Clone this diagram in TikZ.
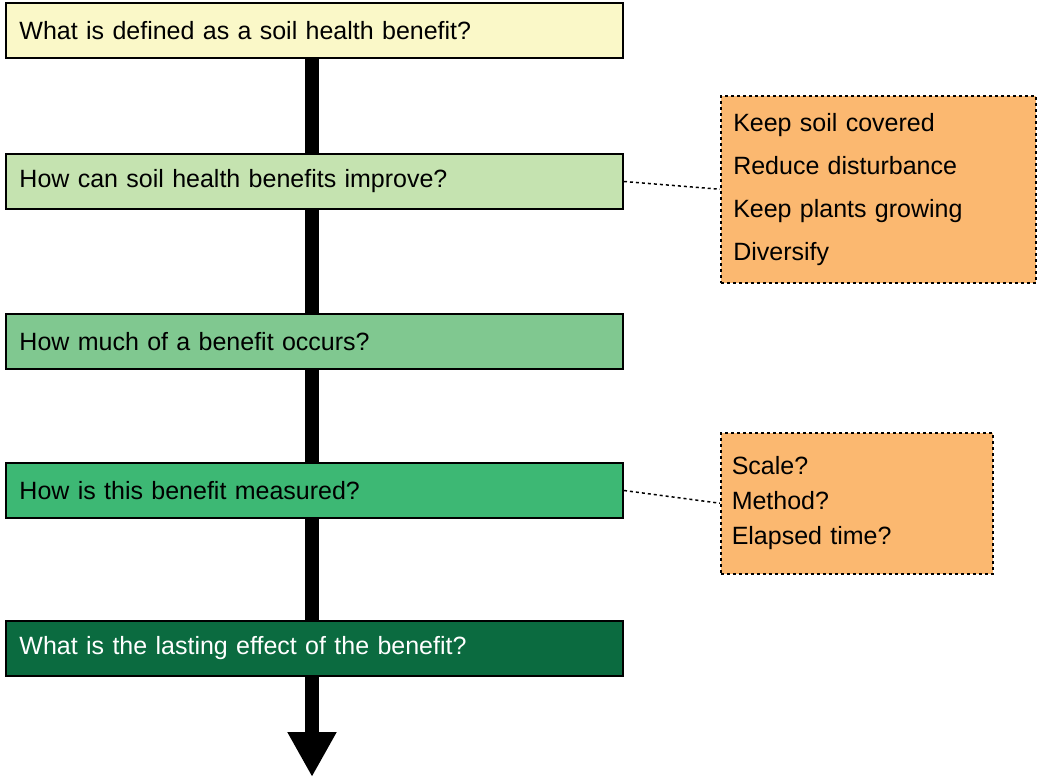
\documentclass[tikz,border=0pt]{standalone}
\usepackage{fontspec}
\setmainfont{Liberation Sans}
\usetikzlibrary{arrows.meta}
\definecolor{c1}{HTML}{FAF8C8}
\definecolor{c2}{HTML}{C5E3B0}
\definecolor{c3}{HTML}{80C890}
\definecolor{c4}{HTML}{3DB874}
\definecolor{c5}{HTML}{0B6B40}
\definecolor{orng}{HTML}{FBB870}
\begin{document}
\begin{tikzpicture}[x=1pt,y=-1pt,
  qbox/.style={draw=black,line width=2pt,minimum width=617pt,minimum height=55pt,anchor=north west,text width=590pt,align=left,font=\fontsize{25}{30}\selectfont},
  obox/.style={draw=black,line width=1.5pt,dashed,fill=orng,anchor=north west,align=left,font=\fontsize{25}{30}\selectfont}]
\useasboundingbox (0,0) rectangle (1050,779);
\draw[line width=14pt,-{Triangle[length=45pt,width=46pt]}] (312,58) -- (312,777);
\node[qbox,fill=c1] (q1) at (5,2) {What is defined as a soil health benefit?};
\node[qbox,fill=c2] (q2) at (5,153) {How can soil health benefits improve?};
\node[qbox,fill=c3] (q3) at (5,313) {How much of a benefit occurs?};
\node[qbox,fill=c4] (q4) at (5,462) {How is this benefit measured?};
\node[qbox,fill=c5,text=white] (q5) at (5,620) {What is the lasting effect of the benefit?};
\node[obox,minimum width=315pt,minimum height=187pt,text width=290pt,font=\fontsize{25}{43}\selectfont] (o1) at (720,95) {Keep soil covered\\Reduce disturbance\\Keep plants growing\\Diversify};
\node[obox,minimum width=272pt,minimum height=141pt,text width=250pt,font=\fontsize{25}{35}\selectfont] (o2) at (720,432) {Scale?\\Method?\\Elapsed time?};
\draw[line width=1.5pt,dashed] (q2.east) -- (o1.west);
\draw[line width=1.5pt,dashed] (q4.east) -- (o2.west);
\end{tikzpicture}
\end{document}
